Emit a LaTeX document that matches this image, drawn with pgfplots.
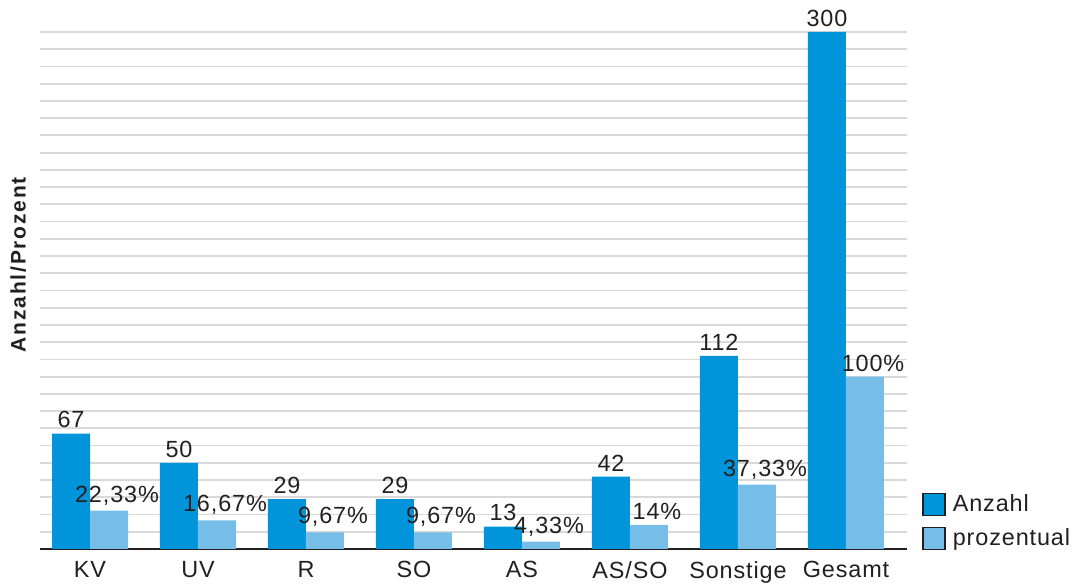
\documentclass[border=0pt]{standalone}
\usepackage{pgfplots}
\pgfplotsset{compat=1.18}
\usepackage{pgfplotstable}
\usepackage{fontspec}
\setmainfont{Liberation Sans}[LetterSpace=3.8]
\newfontfamily\ylabfont{Liberation Sans}[LetterSpace=8.5]

\definecolor{anzahl}{RGB}{0,149,218}
\definecolor{prozent}{RGB}{118,189,231}
\definecolor{gridgray}{RGB}{217,217,217}
\definecolor{textgray}{RGB}{35,31,32}

% x = Kategorie (0..7), y = Wert, label = Beschriftung
\pgfplotstableread{
x y label
0 67 67
1 50 50
2 29 29
3 29 29
4 13 13
5 42 42
6 112 112
7 300 300
}\anzahltab

\pgfplotstableread{
x y label
0 22.33 22,33\%
1 16.67 16,67\%
2 9.67 9,67\%
3 9.67 9,67\%
4 4.33 4,33\%
5 14 14\%
6 37.33 37,33\%
7 100 100\%
}\prozenttab

\begin{document}
\begin{tikzpicture}[font=\fontsize{11.7pt}{14pt}\selectfont, text=textgray]
\path[use as bounding box] (-20pt,-19pt) rectangle (520pt,274.5pt);
\begin{axis}[
  at={(0,0)}, anchor=south west,
  scale only axis,
  width=433.5pt, height=258.5pt,
  xmin=-0.463, xmax=7.565,
  ymin=0, ymax=300,
  ybar=0pt, bar width=19pt,
  axis line style={draw=none},
  xtick={0,...,7},
  xticklabels={KV,UV,R,SO,AS,AS/SO,Sonstige,Gesamt},
  x tick label style={yshift=-2.5pt},
  major tick length=0pt,
  ytick={10,20,...,300},
  yticklabels={},
  ymajorgrids,
  grid style={gridgray, line width=0.9pt},
  extra y ticks={0},
  extra y tick labels={},
  extra y tick style={grid style={textgray, line width=1.3pt}},
  ylabel={\ylabfont\bfseries\fontsize{10.5pt}{12pt}\selectfont Anzahl/Prozent},
  ylabel style={at={(axis description cs:-0.025,0.55)}, anchor=center, rotate=0},
  point meta=explicit symbolic,
  nodes near coords={\pgfplotspointmeta},
  nodes near coords style={inner sep=2.5pt, text=textgray},
  legend style={draw=none, fill=none, at={(1.0173,-0.007)}, anchor=south west,
    inner sep=0pt, row sep=3pt, cells={anchor=west},
    /tikz/every odd column/.append style={column sep=1.5pt},
    font=\fontsize{11.7pt}{14pt}\selectfont},
  legend image code/.code={\draw[#1, draw=textgray, line width=0.7pt] (0pt,-5.5pt) rectangle (11pt,5.5pt);},
]
\addplot[fill=anzahl, draw=none] table[x=x, y=y, meta=label] {\anzahltab};
\addlegendentry{Anzahl}
\addplot[fill=prozent, draw=none, nodes near coords style={xshift=4pt}] table[x=x, y=y, meta=label] {\prozenttab};
\addlegendentry{prozentual}
\end{axis}
\end{tikzpicture}
\end{document}
